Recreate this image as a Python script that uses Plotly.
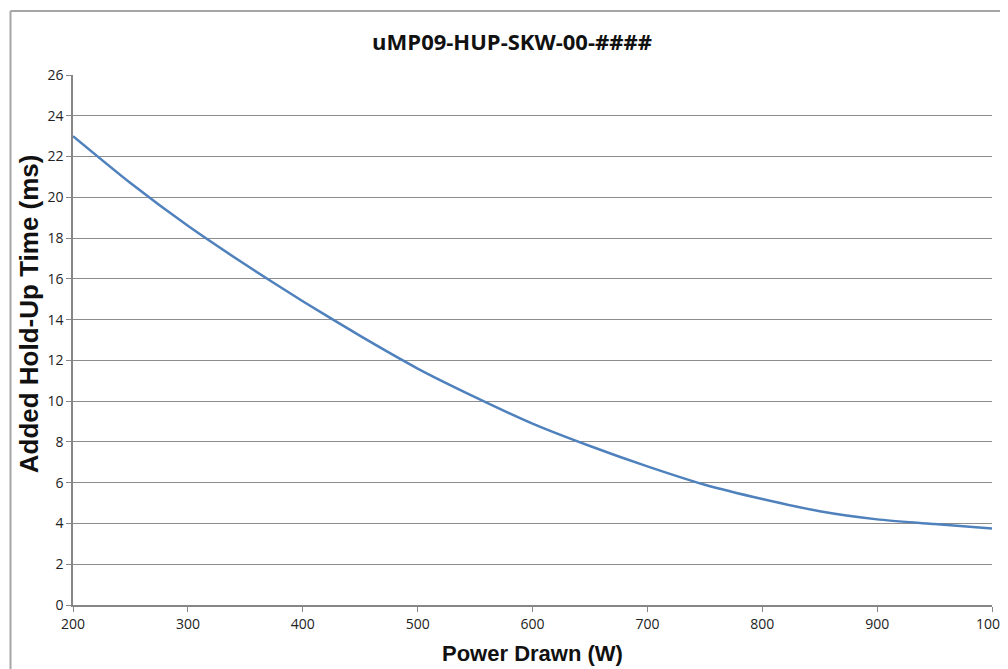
import plotly.graph_objects as go

# Data
power_w = [200, 250, 300, 350, 400, 450, 500, 550, 600, 650, 700, 750, 800, 850, 900, 950, 1000]
holdup_ms = [23.0, 20.7, 18.6, 16.7, 14.9, 13.2, 11.6, 10.2, 8.9, 7.8, 6.8, 5.9, 5.2, 4.6, 4.2, 3.97, 3.75]

title_text = "uMP09-HUP-SKW-00-####"
x_title = "Power Drawn (W)"
y_title = "Added Hold-Up Time (ms)"
x_ticks = [200, 300, 400, 500, 600, 700, 800, 900, 1000]
y_ticks = list(range(0, 27, 2))

OFF = 8  # page body margin
W, H = 1008 - OFF, 669 - OFF
L, R, T, B = 73 - OFF, 992 - OFF, 74.5 - OFF, 605 - OFF


def px(x):
    return (x - OFF - L) / (R - L)


def py(y):
    return (B - (y - OFF)) / (B - T)


fig = go.Figure()
fig.add_trace(go.Scatter(
    x=power_w, y=holdup_ms, mode="lines",
    line=dict(color="#4f81bd", width=2.5, shape="spline", smoothing=0.6),
    hoverinfo="x+y", showlegend=False,
))

shapes = []
# outer Excel chart frame
shapes.append(dict(type="line", xref="paper", yref="paper",
                   x0=px(10.5), y0=py(675), x1=px(10.5), y1=py(10.5),
                   line=dict(color="#a6a6a6", width=2)))
shapes.append(dict(type="line", xref="paper", yref="paper",
                   x0=px(10.5), y0=py(10.5), x1=px(1015), y1=py(10.5),
                   line=dict(color="#a6a6a6", width=2)))

fig.update_layout(
    width=W, height=H,
    margin=dict(l=L, r=W - R, t=T, b=H - B, autoexpand=False),
    paper_bgcolor="white", plot_bgcolor="white",
    shapes=shapes,
    title=dict(text=title_text, x=(512 - OFF) / W, xref="container", xanchor="center",
               y=1 - (42 - OFF) / H, yref="container", yanchor="middle",
               font=dict(family="Open Sans, Noto Sans, sans-serif", size=22, color="#111111", weight="bold")),
    xaxis=dict(range=[200, 1000], tickvals=x_ticks, showgrid=False, zeroline=False,
               showline=True, linecolor="#868686", linewidth=1.5,
               ticks="outside", ticklen=5, tickcolor="#868686",
               ticklabeloverflow="allow", automargin=False,
               tickfont=dict(family="Open Sans, sans-serif", size=14, color="#222222")),
    yaxis=dict(range=[0, 26], tickvals=y_ticks, showgrid=True, gridcolor="#8c8c8c", gridwidth=1,
               zeroline=False, showline=True, linecolor="#868686", linewidth=1.5,
               ticks="outside", ticklen=5, tickcolor="#868686", automargin=False,
               tickfont=dict(family="Open Sans, sans-serif", size=14, color="#222222")),
    annotations=[
        dict(text=x_title, xref="paper", yref="paper", x=px(532), y=py(654),
             xanchor="center", yanchor="middle", showarrow=False,
             font=dict(family="Liberation Sans, Arial, sans-serif", size=22, color="#111111", weight="bold")),
        dict(text=y_title, xref="paper", yref="paper", x=px(29), y=py(314),
             xanchor="center", yanchor="middle", showarrow=False, textangle=-90,
             font=dict(family="Liberation Sans, Arial, sans-serif", size=26, color="#111111", weight="bold")),
    ],
)

fig.write_html("out.html")
